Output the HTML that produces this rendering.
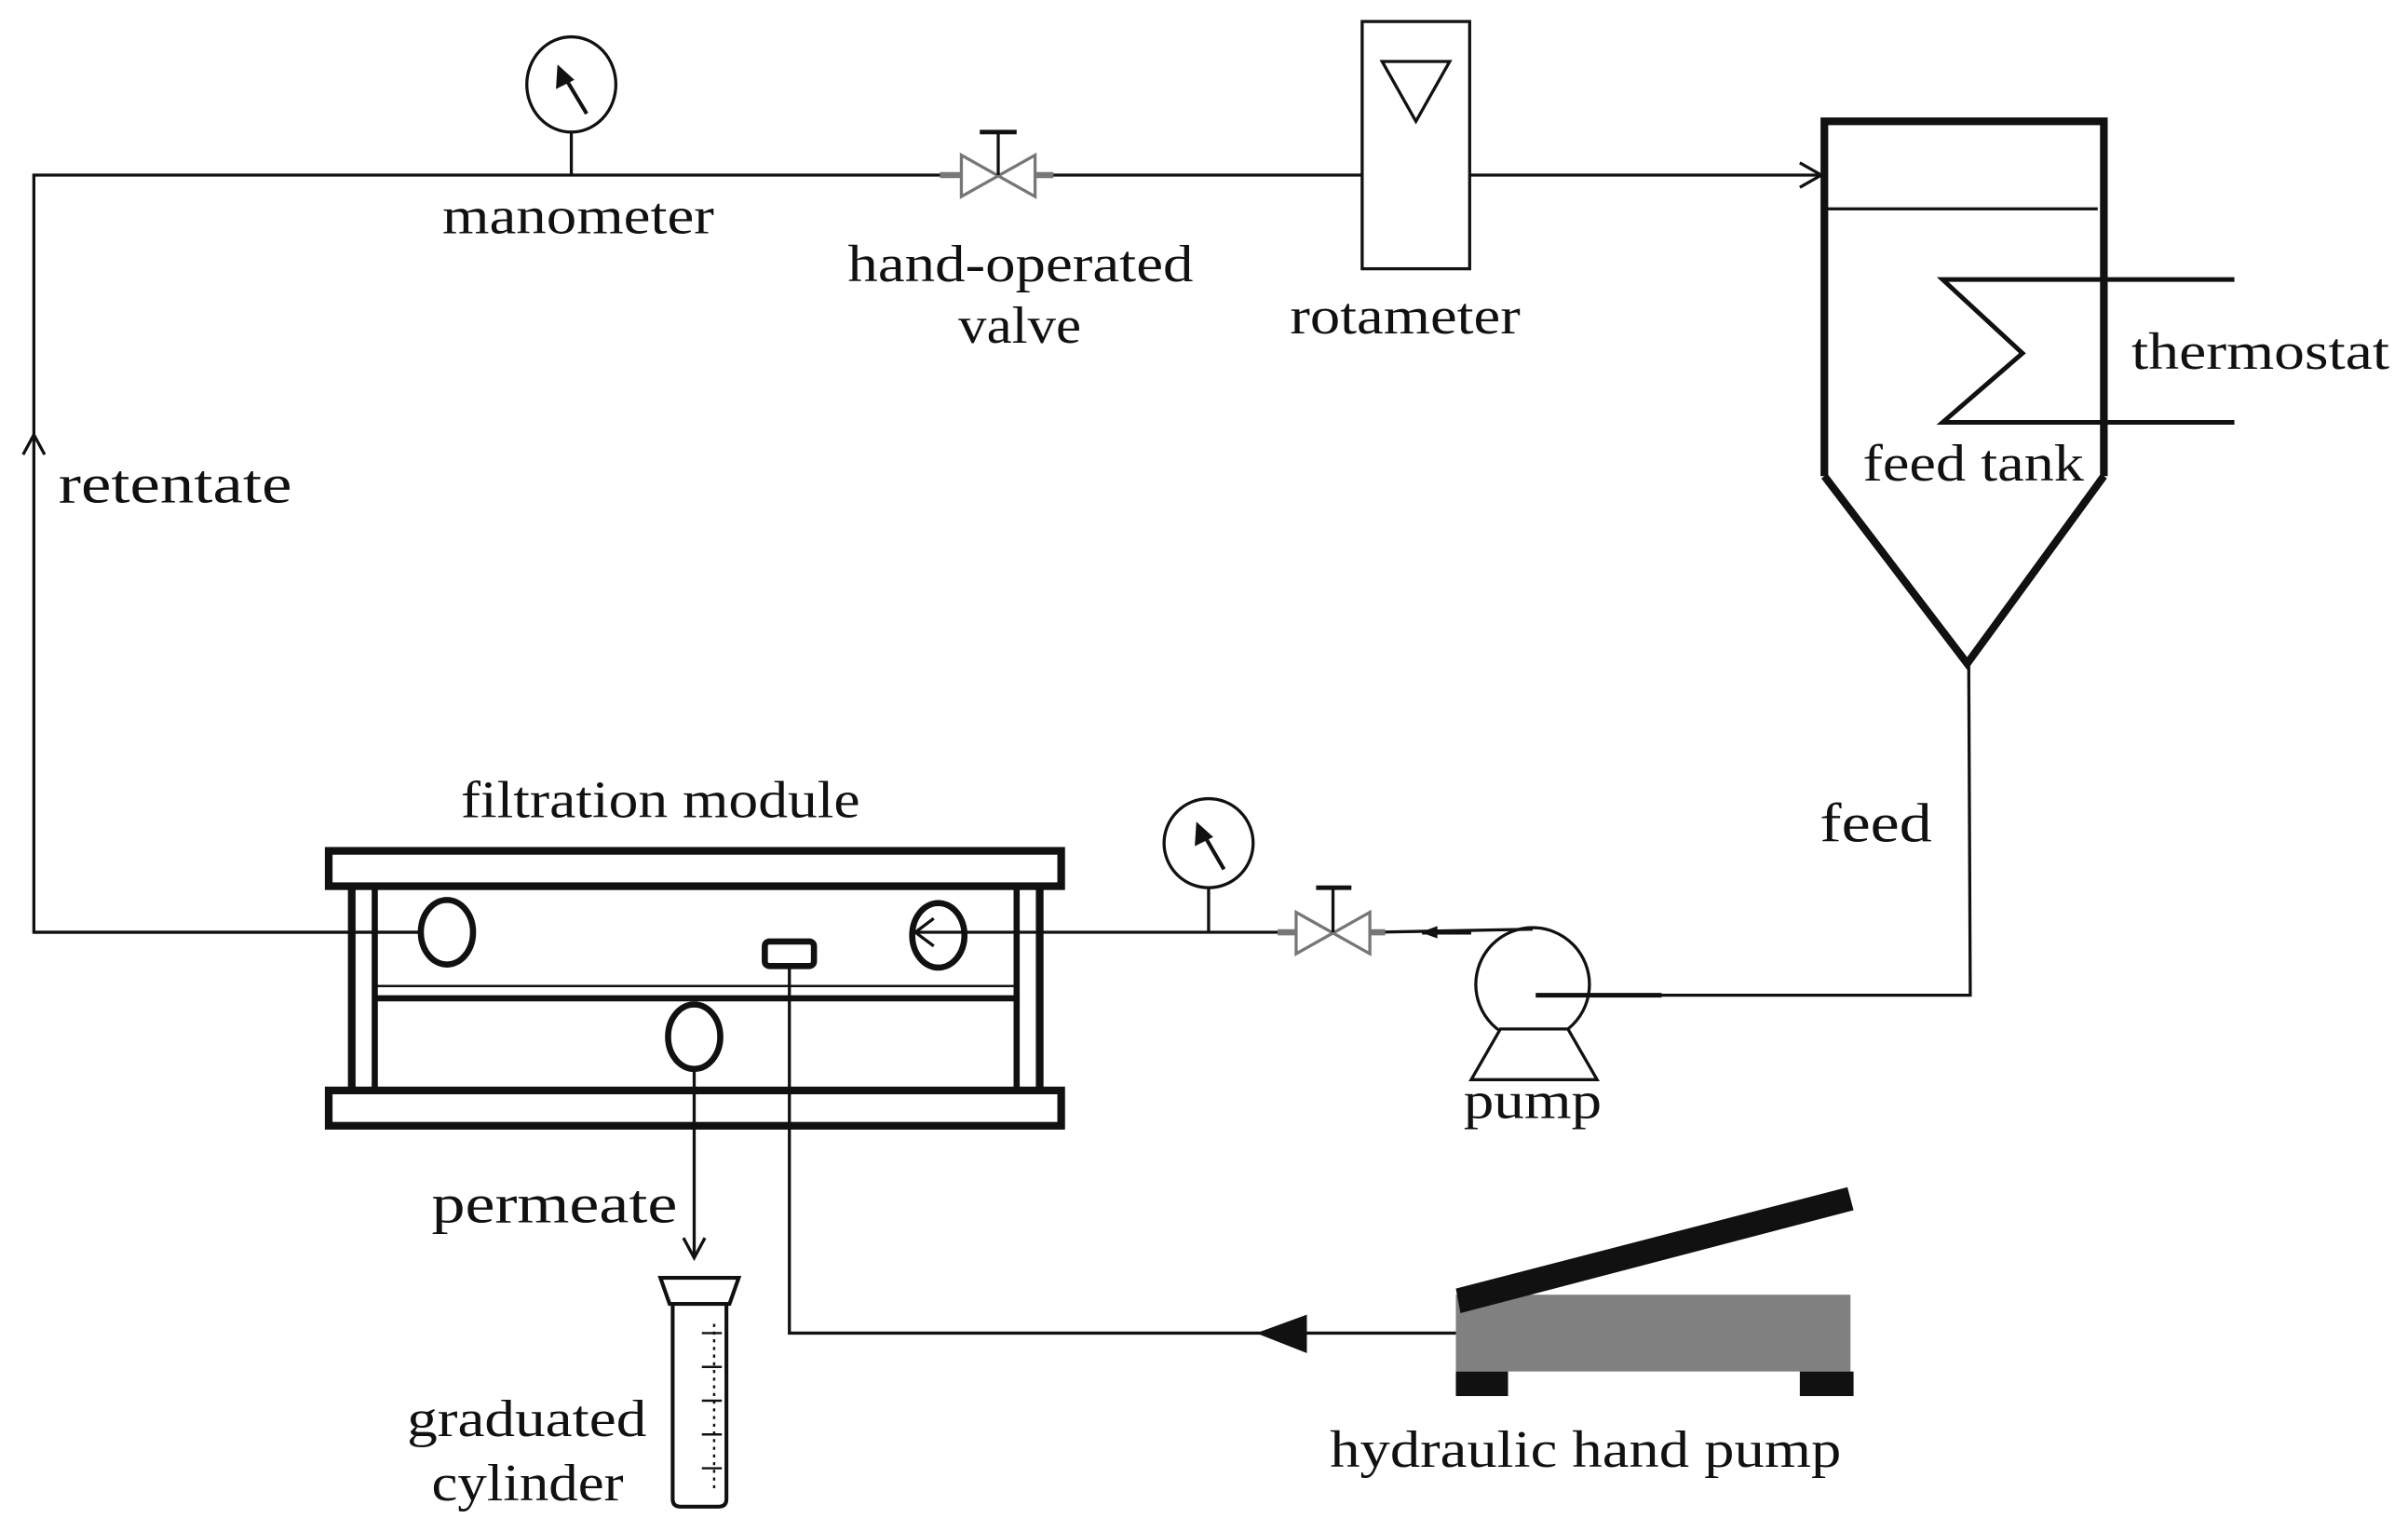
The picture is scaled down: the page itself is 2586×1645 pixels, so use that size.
<!DOCTYPE html>
<html><head><meta charset="utf-8"><style>html,body{margin:0;padding:0;background:#fff}svg{display:block}text{font-family:"Liberation Serif",serif;font-size:34px;fill:#111}</style></head>
<body>
<svg width="2586" height="1645" viewBox="0 0 1568 997.5" xmlns="http://www.w3.org/2000/svg">
<g fill="none" stroke="#111" stroke-width="2">
<polyline points="274,607 22,607 22,114 1186,114"/>
<polyline points="15,296 22,283 29,296"/>
<polyline points="1172,106 1186,114 1172,122"/>
<ellipse cx="372" cy="55" rx="29" ry="31"/>
<line x1="372" y1="86" x2="372" y2="114"/>
<line x1="382" y1="74" x2="367" y2="49" stroke-width="2.5"/>
<g stroke="#777">
<polygon points="626,101 626,128 674,101 674,128" fill="#fff"/>
<line x1="612" y1="114" x2="626" y2="114" stroke-width="4"/>
<line x1="674" y1="114" x2="686" y2="114" stroke-width="4"/>
</g>
<line x1="650" y1="86" x2="650" y2="114"/>
<line x1="638" y1="86" x2="662" y2="86" stroke-width="3"/>
<rect x="887" y="14" width="70" height="161" fill="#fff"/>
<polygon points="900,40 944,40 922,79"/>
<polyline points="1188,310 1188,79 1370,79 1370,310" stroke-width="5"/>
<polyline points="1188,310 1281,432 1370,310" stroke-width="5"/>
<line x1="1188" y1="136" x2="1366" y2="136"/>
<polyline points="1455,182 1265,182 1317,230 1265,275 1455,275" stroke-width="3"/>
<polyline points="1282,432 1283,648 1002,648"/>
<circle cx="998" cy="641" r="37" fill="#fff"/>
<line x1="1000" y1="648" x2="1082" y2="648" stroke-width="3"/>
<polygon points="977,670 958,703 1040,703 1021,670" fill="#fff"/>
<line x1="998" y1="605" x2="895" y2="607"/>
<polygon points="925,607 936,603 936,611" fill="#111" stroke="none"/>
<line x1="926" y1="607" x2="958" y2="607" stroke-width="3"/>
<g stroke="#777">
<polygon points="844,594 844,621 892,594 892,621" fill="#fff"/>
<line x1="832" y1="607" x2="844" y2="607" stroke-width="4"/>
<line x1="892" y1="607" x2="902" y2="607" stroke-width="4"/>
</g>
<line x1="868" y1="578" x2="868" y2="607"/>
<line x1="857" y1="578" x2="880" y2="578" stroke-width="3"/>
<circle cx="787" cy="549" r="29" fill="#fff"/>
<line x1="787" y1="578" x2="787" y2="607"/>
<line x1="797" y1="566" x2="783" y2="542" stroke-width="2.5"/>
<line x1="832" y1="607" x2="596" y2="607"/>
<polyline points="608,598 596,607 608,616"/>
<rect x="214" y="554" width="477" height="23" stroke-width="5" fill="#fff"/>
<rect x="214" y="710" width="477" height="23" stroke-width="5" fill="#fff"/>
<line x1="229" y1="577" x2="229" y2="710" stroke-width="5"/>
<line x1="244" y1="577" x2="244" y2="710" stroke-width="4"/>
<line x1="662" y1="577" x2="662" y2="710" stroke-width="4"/>
<line x1="677" y1="577" x2="677" y2="710" stroke-width="5"/>
<line x1="244" y1="642" x2="662" y2="642" stroke-width="1.5"/>
<line x1="244" y1="650" x2="662" y2="650" stroke-width="4"/>
<ellipse cx="291" cy="607" rx="17" ry="21" stroke-width="4" fill="#fff"/>
<line x1="22" y1="607" x2="274" y2="607"/>
<ellipse cx="611" cy="609" rx="17" ry="21" stroke-width="4"/>
<ellipse cx="452" cy="675" rx="17" ry="21" stroke-width="4" fill="#fff"/>
<rect x="498" y="613" width="32" height="16" rx="3" stroke-width="4"/>
<line x1="452" y1="696" x2="452" y2="818"/>
<polyline points="445,806 452,819 459,806"/>
<polygon points="430,832 481,832 475,849 436,849" stroke-width="2.5"/>
<path d="M438,849 V976 Q438,981 443,981 H468 Q473,981 473,976 V849" stroke-width="2.5"/>
<g stroke-width="1.5" stroke-dasharray="2,3">
<line x1="465" y1="862" x2="465" y2="972"/>
</g>
<g stroke-width="1.5">
<line x1="457" y1="868" x2="470" y2="868"/><line x1="457" y1="890" x2="470" y2="890"/>
<line x1="457" y1="912" x2="470" y2="912"/><line x1="457" y1="934" x2="470" y2="934"/>
<line x1="457" y1="956" x2="470" y2="956"/>
</g>
<polyline points="514,629 514,868 948,868"/>
</g>
<polygon points="363,42 362,58 374,52" fill="#111"/>
<polygon points="779,535 778,551 790,545" fill="#111"/>
<polygon points="818,868 851,856 851,881" fill="#111"/>
<rect x="948" y="843" width="257" height="50" fill="#808080"/>
<rect x="948" y="893" width="34" height="16" fill="#111"/>
<rect x="1172" y="893" width="35" height="16" fill="#111"/>
<polygon points="948,839 1203,773 1207,788 951,855" fill="#111"/>
<text x="288" y="152" textLength="177" lengthAdjust="spacingAndGlyphs">manometer</text>
<text x="552" y="183" textLength="225" lengthAdjust="spacingAndGlyphs">hand-operated</text>
<text x="624" y="223" textLength="80" lengthAdjust="spacingAndGlyphs">valve</text>
<text x="840" y="217" textLength="150" lengthAdjust="spacingAndGlyphs">rotameter</text>
<text x="1388" y="240" textLength="168" lengthAdjust="spacingAndGlyphs">thermostat</text>
<text x="1213" y="313" textLength="144" lengthAdjust="spacingAndGlyphs">feed tank</text>
<text x="38" y="327" textLength="152" lengthAdjust="spacingAndGlyphs" style="font-size:36px">retentate</text>
<text x="1185" y="548" textLength="73" lengthAdjust="spacingAndGlyphs" style="font-size:36px">feed</text>
<text x="300" y="532" textLength="260" lengthAdjust="spacingAndGlyphs">filtration module</text>
<text x="953" y="728" textLength="90" lengthAdjust="spacingAndGlyphs">pump</text>
<text x="281" y="796" textLength="160" lengthAdjust="spacingAndGlyphs" style="font-size:36px">permeate</text>
<text x="265" y="935" textLength="156" lengthAdjust="spacingAndGlyphs">graduated</text>
<text x="281" y="977" textLength="125" lengthAdjust="spacingAndGlyphs">cylinder</text>
<text x="866" y="955" textLength="333" lengthAdjust="spacingAndGlyphs">hydraulic hand pump</text>
</svg>
</body></html>
